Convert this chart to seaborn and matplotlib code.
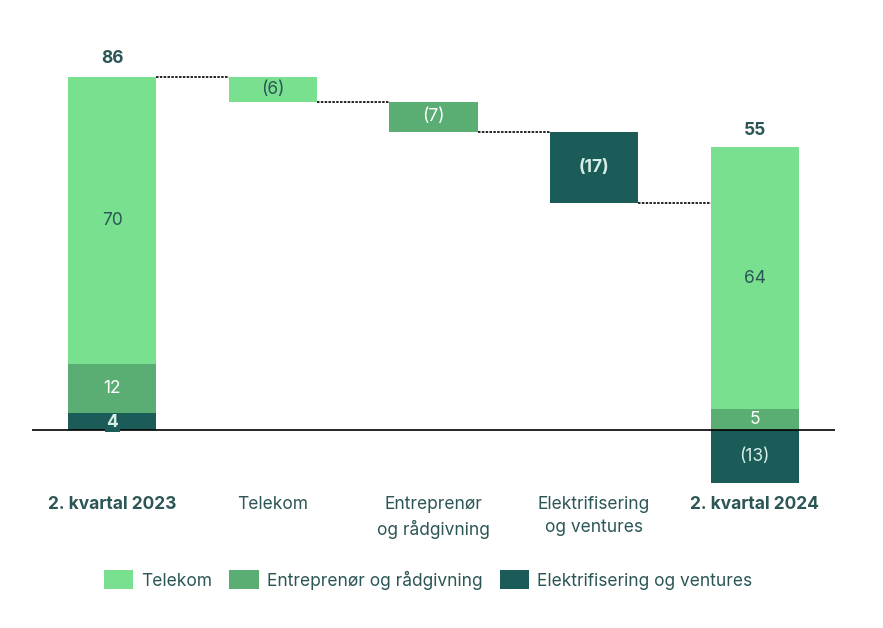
import matplotlib
matplotlib.use("Agg")
from matplotlib import pyplot as plt
from matplotlib.patches import Patch
import seaborn as sns

categories = ["2. kvartal 2023", "Telekom", "Entreprenør\nog rådgivning",
              "Elektrifisering\nog ventures", "2. kvartal 2024"]
segments = ["Telekom", "Entreprenør og rådgivning", "Elektrifisering og ventures"]

# opening quarter, stacked per segment
start_parts = [70, 12, 4]          # Telekom, Entreprenør, Elektrifisering
start_total = 86
# changes during the period (bar heights, labels rounded)
changes = [-6.1, -7.3, -17.3]
# closing quarter, stacked per segment
end_parts = [64, 5, -13]
end_total = 55

colors = ["#78e08f", "#5aad73", "#1b5c58"]
dark_text = "#2c5656"
light_text = "#d6ece6"
fs = 12.5

sns.set_theme(style="white")
plt.rcParams["font.family"] = ["Inter", "DejaVu Sans"]

fig = plt.figure(figsize=(8.83, 6.28), dpi=100)
ax = fig.add_axes([32 / 883, 1 - 512 / 628, (835 - 32) / 883, (512 - 40) / 628])
width = 0.55


def seg_bar(cat, bottom, height, color):
    sns.barplot(x=[cat], y=[height], order=categories, bottom=bottom,
                color=color, width=width, saturation=1, linewidth=0, ax=ax)


# 2023: dark at bottom, then medium, then light
b = 0
for i in [2, 1, 0]:
    seg_bar(categories[0], b, start_parts[i], colors[i])
    b += start_parts[i]

# floating change bars
level = start_total
levels = [level]
for i, ch in enumerate(changes):
    seg_bar(categories[i + 1], level, ch, colors[i])
    level += ch
    levels.append(level)

# 2024: positive stack upward, negative below zero
b = 0
for i in [1, 0]:
    seg_bar(categories[4], b, end_parts[i], colors[i])
    b += end_parts[i]
seg_bar(categories[4], 0, end_parts[2], colors[2])

# connectors
for i, lv in enumerate(levels):
    ax.plot([i + width / 2, i + 1 - width / 2], [lv, lv], color="black",
            lw=1.2, ls=(0, (1.5, 0.8)))

ax.axhline(0, color="black", lw=1.2)

# labels
ax.text(0, start_total + 2.3, str(start_total), ha="center", va="bottom",
        fontsize=fs, fontweight="bold", color=dark_text)
ax.text(0, 16 + 70 / 2, "70", ha="center", va="center", fontsize=fs, color=dark_text)
ax.text(0, 4 + 12 / 2, "12", ha="center", va="center", fontsize=fs, color="white")
ax.text(0, 1.8, "4", ha="center", va="center", fontsize=fs, color=light_text,
        fontweight="bold", bbox=dict(facecolor=colors[2], edgecolor="none", pad=1))

lvl = start_total
for i, ch in enumerate(changes):
    c = dark_text if i == 0 else (light_text if i == 2 else "white")
    ax.text(i + 1, lvl + ch / 2, f"({abs(round(ch))})", ha="center", va="center",
            fontsize=fs, color=c, fontweight="bold" if i == 2 else "normal")
    lvl += ch

ax.text(4, end_parts[0] + end_parts[1] + 1.8, str(end_total), ha="center",
        va="bottom", fontsize=fs, fontweight="bold", color=dark_text)
ax.text(4, end_parts[1] + end_parts[0] / 2, str(end_parts[0]), ha="center",
        va="center", fontsize=fs, color=dark_text)
ax.text(4, end_parts[1] / 2, str(end_parts[1]), ha="center", va="center",
        fontsize=fs, color="white")
ax.text(4, end_parts[2] / 2, f"({abs(end_parts[2])})", ha="center", va="center",
        fontsize=fs, color=light_text)

# category labels
for i, cat in enumerate(categories):
    bold = i in (0, 4)
    ax.text(i, -16.0, cat, ha="center", va="top", fontsize=fs,
            color=dark_text, fontweight="bold" if bold else "normal",
            linespacing=1.5)

ax.set_xlim(-0.5, 4.5)
ax.set_ylim(-20, 95)
ax.set_xlabel("")
ax.set_ylabel("")
ax.set_xticks([])
ax.set_yticks([])
sns.despine(ax=ax, left=True, bottom=True)

handles = [Patch(facecolor=c, edgecolor="none", label=s) for c, s in zip(colors, segments)]
fig.legend(handles=handles, loc="center", bbox_to_anchor=(428 / 883, 1 - 580 / 628),
           ncol=3, frameon=False, fontsize=fs, handlelength=1.7, handleheight=1.3,
           handletextpad=0.45, columnspacing=1.0, labelcolor=dark_text)

fig.savefig("out.png", dpi=100)
